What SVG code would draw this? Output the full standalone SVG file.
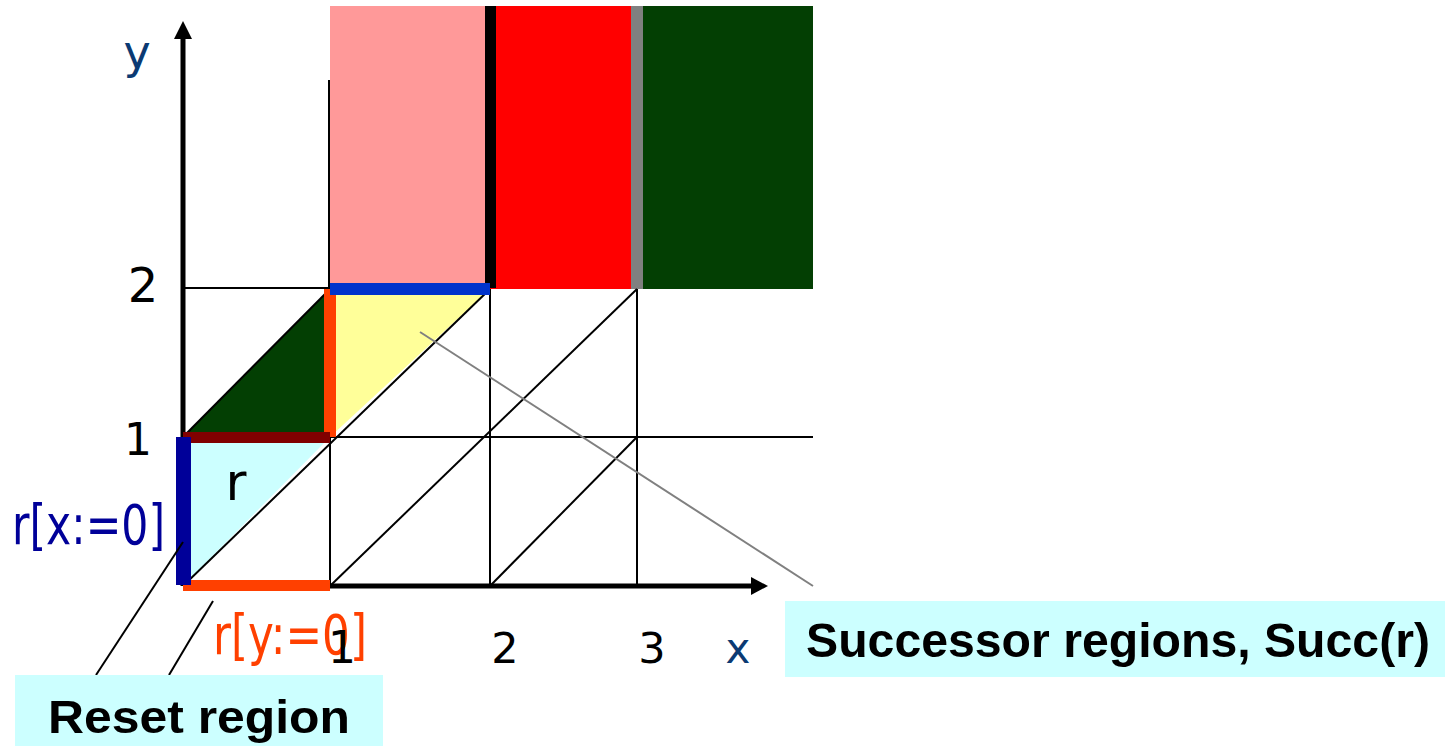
<svg xmlns="http://www.w3.org/2000/svg" width="1445" height="746" viewBox="0 0 1445 746">
<defs>
<style>
.grid{stroke:#000;stroke-width:2;fill:none}
.axis{stroke:#000;stroke-width:5;fill:none}
.lbl{font-family:"DejaVu Sans","Verdana",sans-serif;fill:#000}
.navy{fill:#0B3A73}
.bold{font-family:"Liberation Sans","Arial",sans-serif;font-weight:bold;fill:#000}
.ptr{stroke:#000;stroke-width:2;fill:none}
</style>
</defs>
<rect width="1445" height="746" fill="#fff"/>
<g id="regions">
<g id="pink"><rect x="330" y="6" width="160" height="283" fill="#FF9999"/></g>
<g id="red"><rect x="490" y="6" width="148" height="283" fill="#FF0000"/></g>
<g id="darkgreen-top"><rect x="638" y="6" width="175" height="283" fill="#033F03"/></g>
<g id="black-bar"><rect x="485" y="6" width="11" height="282" fill="#000"/></g>
<g id="gray-bar"><rect x="631" y="6" width="12" height="283" fill="#808080"/></g>
<g id="darkgreen-tri"><polygon points="183,437 330,289 330,437" fill="#033F03"/></g>
<g id="yellow"><polygon points="330,437 330,289 490,289" fill="#FFFF99"/></g>
<g id="r-region"><polygon points="183,437 330,437 183,586" fill="#CCFFFF"/></g>
</g>
<g id="grid">
<line class="grid" x1="329" y1="80" x2="329" y2="289"/>
<line class="grid" x1="183" y1="288" x2="330" y2="288"/>
<line class="grid" x1="183" y1="437" x2="813" y2="437"/>
<line class="grid" x1="330" y1="437" x2="330" y2="586"/>
<line class="grid" x1="490" y1="289" x2="490" y2="586"/>
<line class="grid" x1="637" y1="289" x2="637" y2="586"/>
<line class="grid" x1="183" y1="586" x2="490" y2="289"/>
<line class="grid" x1="330" y1="586" x2="637" y2="289"/>
<line class="grid" x1="490" y1="586" x2="637" y2="437"/>
<line class="grid" x1="183" y1="437" x2="330" y2="289"/>
</g>
<g id="axes">
<line class="axis" x1="183" y1="586" x2="183" y2="36"/>
<polygon points="183,21 174,39 192,39" fill="#000"/>
<line class="axis" x1="183" y1="586" x2="753" y2="586"/>
<polygon points="768,586 751,577 751,595" fill="#000"/>
</g>
<g id="edges">
<g id="edge-x1"><rect x="324" y="289" width="12" height="148" fill="#FF4000"/></g>
<g id="edge-y2"><rect x="330" y="283" width="160" height="12" fill="#0033CC"/></g>
<g id="edge-y1"><rect x="183" y="432" width="147" height="11" fill="#800000"/></g>
<g id="edge-y0"><rect x="183" y="580" width="147" height="11" fill="#FF4000"/></g>
<g id="edge-x0"><rect x="176" y="437" width="15" height="148" fill="#000099"/></g>
</g>
<g id="connectors">
<line class="ptr" x1="183" y1="542" x2="96" y2="675"/>
<line class="ptr" x1="213" y1="601" x2="169" y2="675"/>
<line x1="420" y1="332" x2="813" y2="586" stroke="#808080" stroke-width="2"/>
</g>
<g id="axis-labels">
<text class="lbl navy" x="137" y="68" font-size="46" text-anchor="middle">y</text>
<text class="lbl" x="143" y="302" font-size="48" text-anchor="middle">2</text>
<text class="lbl" x="138" y="455" font-size="44" text-anchor="middle">1</text>
<text class="lbl" x="505" y="663" font-size="43" text-anchor="middle">2</text>
<text class="lbl" x="652" y="663" font-size="43" text-anchor="middle">3</text>
<text class="lbl navy" x="738" y="663" font-size="42" text-anchor="middle">x</text>
</g>
<g id="r-label"><text class="lbl" x="236" y="500" font-size="51" text-anchor="middle">r</text></g>
<g id="reset-x-label"><text class="lbl" x="12" y="544" font-size="55" fill="#000099" style="fill:#000099" textLength="153" lengthAdjust="spacingAndGlyphs">r[x:=0]</text></g>
<g id="reset-y-label"><text class="lbl" x="213" y="654" font-size="55" style="fill:#FF4000" textLength="154" lengthAdjust="spacingAndGlyphs">r[y:=0]</text></g>
<g id="x1-label"><text class="lbl" x="342" y="663" font-size="44" text-anchor="middle">1</text></g>
<g id="reset-region">
<rect x="15" y="675" width="368" height="71" fill="#CCFFFF"/>
<text class="bold" x="48" y="733" font-size="47" textLength="302" lengthAdjust="spacingAndGlyphs">Reset region</text>
</g>
<g id="successor-regions">
<rect x="785" y="601" width="660" height="76" fill="#CCFFFF"/>
<text class="bold" x="806" y="657" font-size="49" textLength="624" lengthAdjust="spacingAndGlyphs">Successor regions, Succ(r)</text>
</g>
</svg>
